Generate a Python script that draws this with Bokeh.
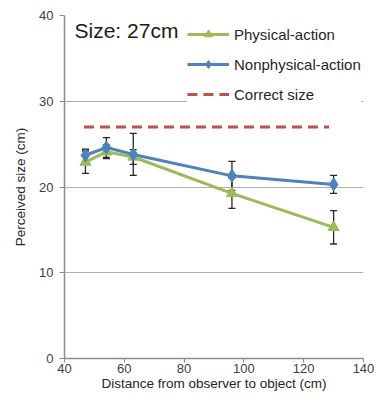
from bokeh.plotting import figure
from bokeh.models import ColumnDataSource, Whisker, Legend, LegendItem, Label, FixedTicker, Range1d
from bokeh.embed import file_html
from bokeh.resources import INLINE

# ---- data ----
distance = [47, 54, 63, 96, 130]
physical = [22.9, 24.1, 23.5, 19.25, 15.3]
physical_err = [1.3, 0.8, 0.85, 1.75, 1.95]
nonphysical = [23.7, 24.6, 23.8, 21.3, 20.3]
nonphysical_err = [0.7, 1.15, 2.45, 1.7, 1.05]
correct_x = [46.5, 128.5]
correct_y = [27, 27]
x_ticks = [40, 60, 80, 100, 120, 140]
y_ticks = [0, 10, 20, 30, 40]

GREEN = "#9bbb59"
BLUE = "#4f81bd"
RED = "#c0504d"
FONT = "Liberation Sans"

p = figure(width=374, height=393, output_backend="svg", toolbar_location=None,
           x_range=Range1d(40, 140), y_range=Range1d(0, 40),
           min_border_left=64, min_border_right=11, min_border_top=15, min_border_bottom=30)
p.outline_line_color = None
p.background_fill_color = "white"
p.border_fill_color = "white"

p.xgrid.visible = False
p.ygrid.grid_line_color = "#b0b0b0"
p.ygrid.grid_line_width = 1

for ax in (p.xaxis[0], p.yaxis[0]):
    ax.axis_line_color = "#8c8c8c"
    ax.axis_line_width = 1.5
    ax.major_tick_line_color = "#8c8c8c"
    ax.major_tick_in = 0
    ax.major_tick_out = 5
    ax.minor_tick_line_color = None
    ax.major_label_text_font = FONT
    ax.major_label_text_font_size = "13px"
    ax.major_label_text_color = "#404040"
    ax.axis_label_text_font = FONT
    ax.axis_label_text_font_size = "13.5px"
    ax.axis_label_text_font_style = "normal"
    ax.axis_label_text_color = "#262626"

p.xaxis.ticker = FixedTicker(ticks=x_ticks)
p.yaxis.ticker = FixedTicker(ticks=y_ticks)
p.xaxis.axis_label = "Distance from observer to object (cm)"
p.yaxis.axis_label = "Perceived size (cm)"
p.xaxis.major_tick_out = 4
p.xaxis.major_label_standoff = 1
p.xaxis.axis_label_standoff = 0
p.yaxis.major_label_standoff = 6
p.yaxis.axis_label_standoff = 8

src = ColumnDataSource(dict(
    x=distance,
    phys=physical,
    phys_lo=[v - e for v, e in zip(physical, physical_err)],
    phys_hi=[v + e for v, e in zip(physical, physical_err)],
    non=nonphysical,
    non_lo=[v - e for v, e in zip(nonphysical, nonphysical_err)],
    non_hi=[v + e for v, e in zip(nonphysical, nonphysical_err)],
))

# correct size line
r_corr = p.line(correct_x, correct_y, line_color=RED, line_width=3, line_dash="10 6")

# series lines
r_pl = p.line("x", "phys", source=src, line_color=GREEN, line_width=3)
r_nl = p.line("x", "non", source=src, line_color=BLUE, line_width=3)
r_pm = p.scatter("x", "phys", source=src, marker="triangle", size=11,
                 fill_color=GREEN, line_color=GREEN)
r_nm = p.scatter("x", "non", source=src, marker="diamond", size=13,
                 fill_color=BLUE, line_color=BLUE)

# error bars
for lo, hi in (("phys_lo", "phys_hi"), ("non_lo", "non_hi")):
    w = Whisker(base="x", lower=lo, upper=hi, source=src,
                line_color="#262626", line_width=1.3)
    w.upper_head.size = 7
    w.lower_head.size = 7
    w.upper_head.line_color = "#262626"
    w.lower_head.line_color = "#262626"
    w.upper_head.line_width = 1.3
    w.lower_head.line_width = 1.3
    p.add_layout(w)

legend = Legend(items=[
    LegendItem(label="Physical-action", renderers=[r_pl, r_pm]),
    LegendItem(label="Nonphysical-action", renderers=[r_nl, r_nm]),
    LegendItem(label="Correct size", renderers=[r_corr]),
], location=(123, 254))
legend.margin = 0
legend.padding = 4
legend.spacing = 10
legend.label_height = 20
legend.glyph_height = 20
legend.glyph_width = 42
legend.label_standoff = 5
legend.label_text_font = FONT
legend.label_text_font_size = "15px"
legend.label_text_color = "#262626"
legend.border_line_color = None
legend.background_fill_color = "white"
legend.background_fill_alpha = 1.0
p.add_layout(legend, "center")

title = Label(x=10, y=328, x_units="screen", y_units="screen", text="Size: 27cm",
              text_font=FONT, text_font_size="21px", text_color="#1a1a1a",
              text_baseline="middle", background_fill_color="white")
p.add_layout(title)

open("out.html", "w").write(file_html(p, INLINE))
